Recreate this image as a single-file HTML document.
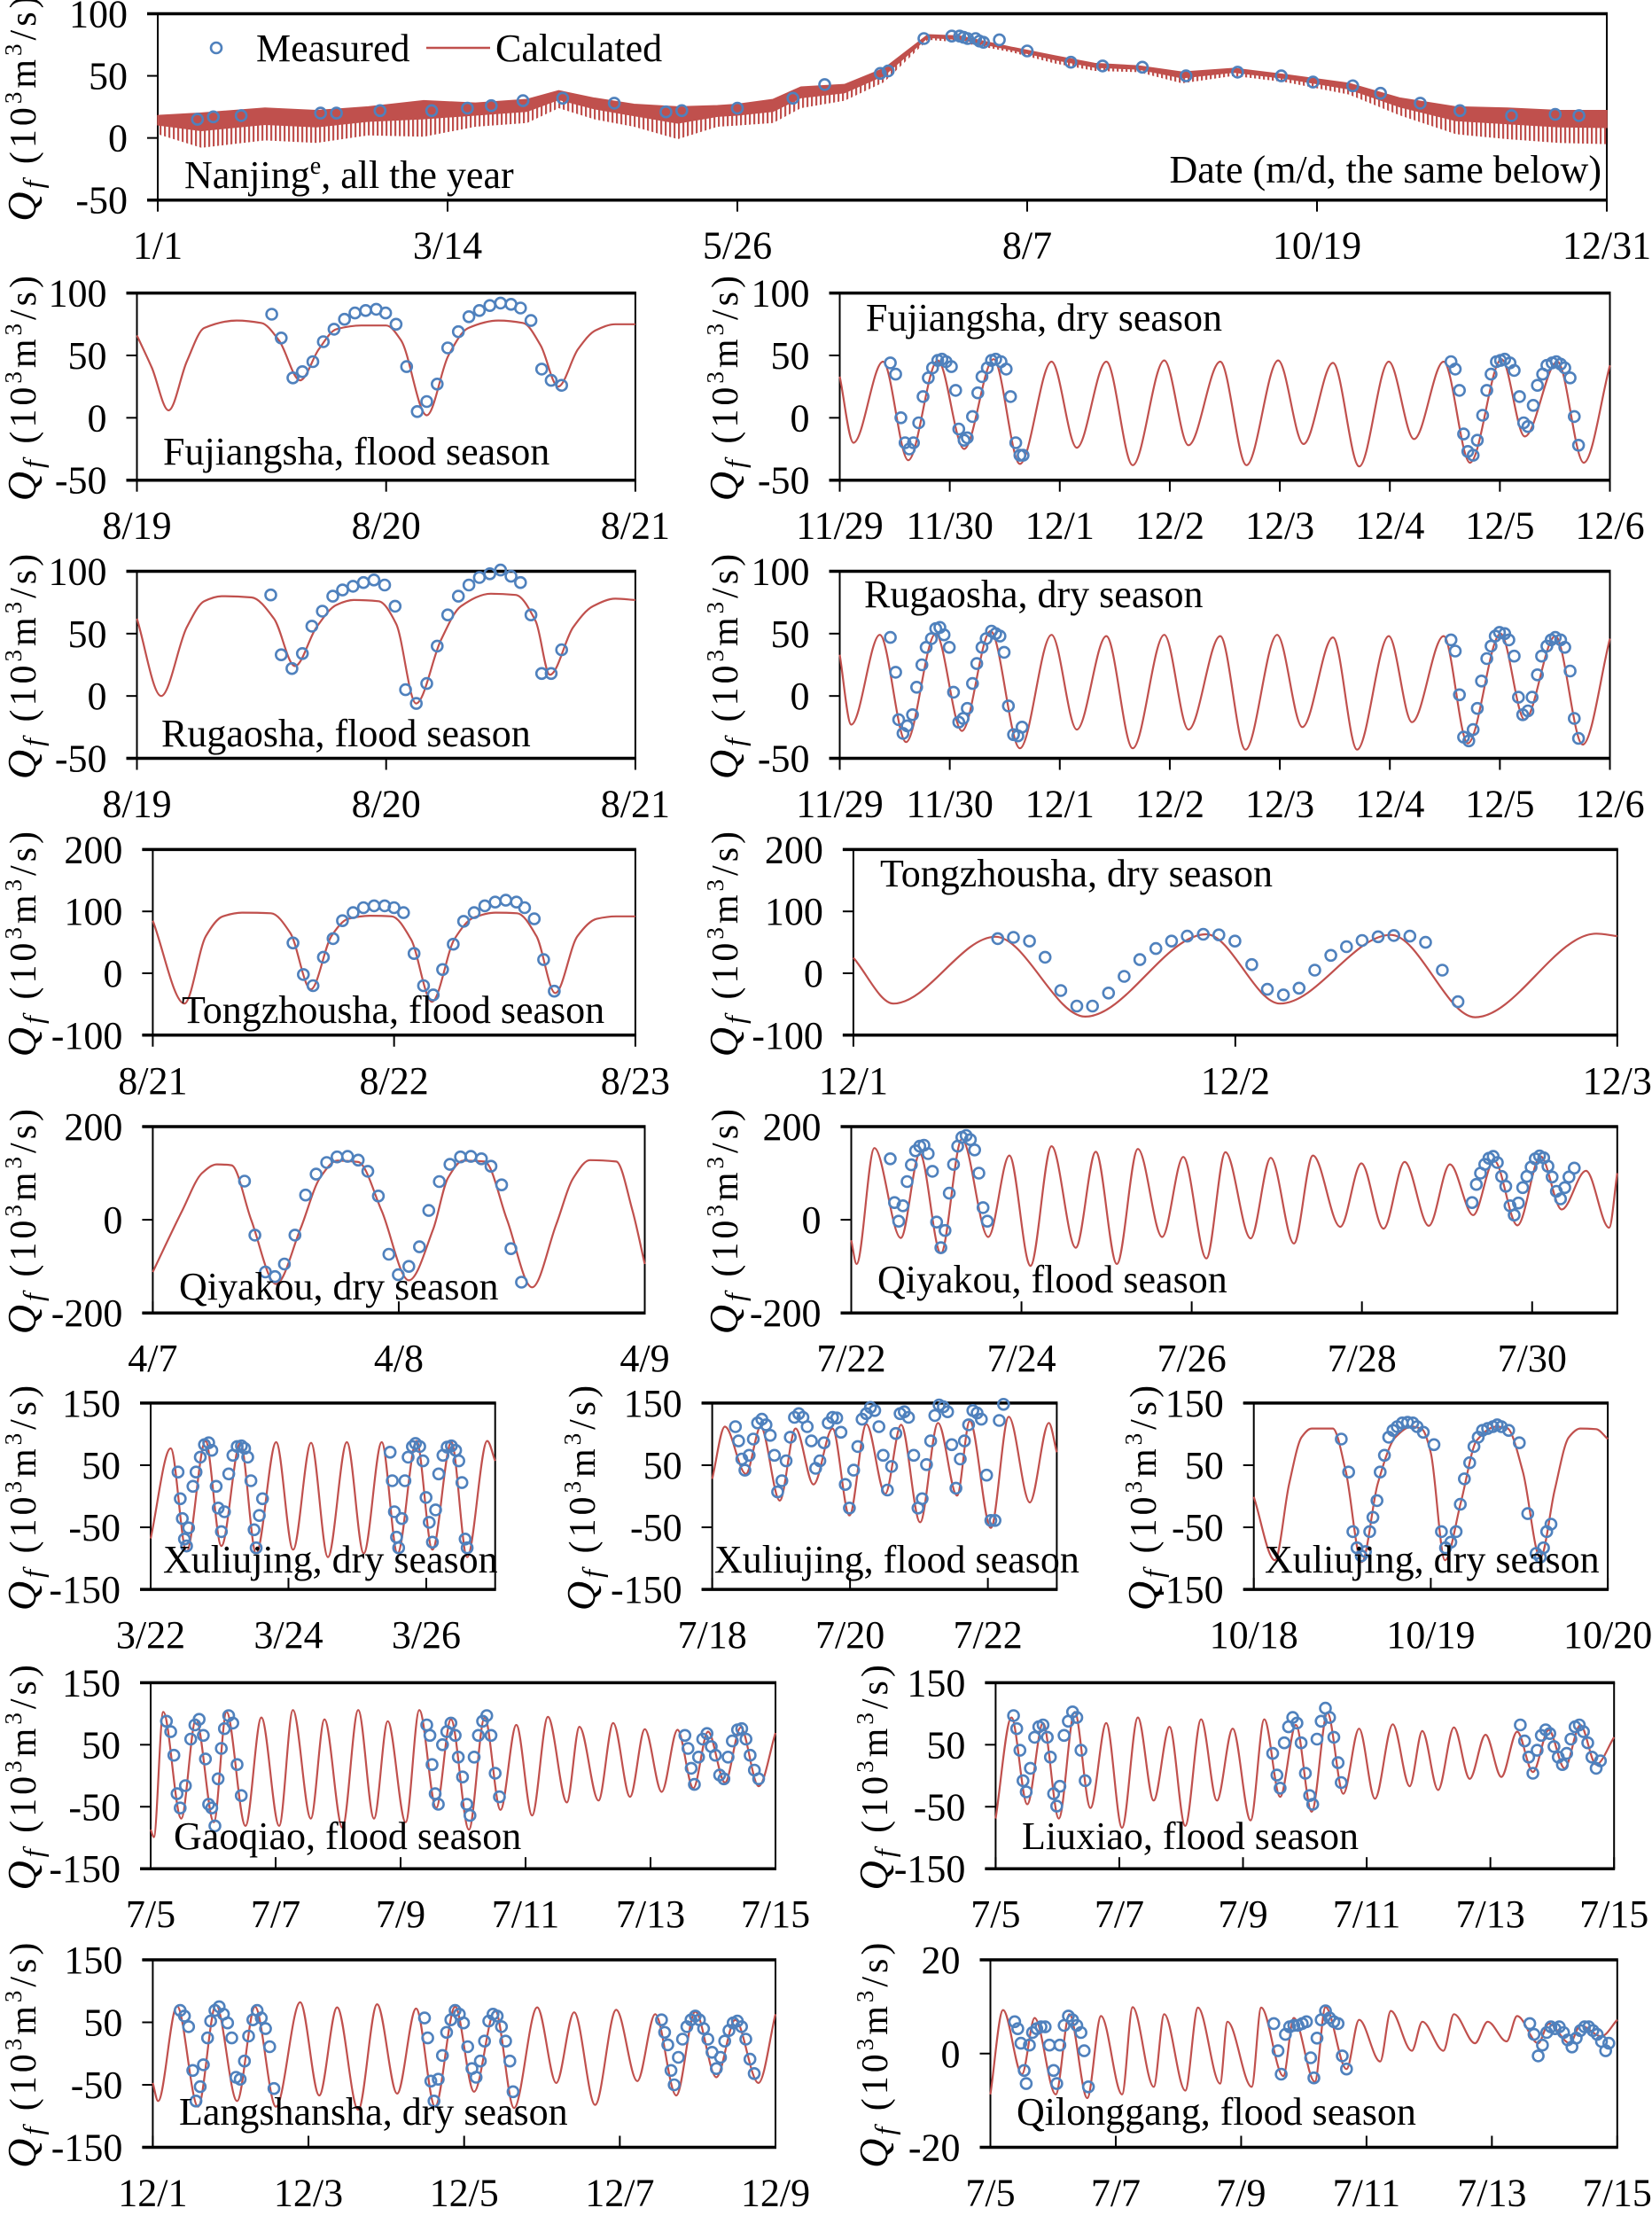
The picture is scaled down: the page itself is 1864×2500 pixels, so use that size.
<!DOCTYPE html>
<html><head><meta charset="utf-8"><title>Qf panels</title>
<style>
html,body{margin:0;padding:0;background:#fff;}
svg{display:block;}
text{font-family:"Liberation Serif","DejaVu Serif",serif;fill:#000;}
</style></head>
<body>
<svg id="fig" xmlns="http://www.w3.org/2000/svg" width="1864" height="2500" viewBox="0 0 1864 2500">
<defs>
<pattern id="spikes" patternUnits="userSpaceOnUse" width="5" height="10"><rect x="0" y="0" width="2.2" height="10" fill="#C0504D"/></pattern>
</defs>
</svg>
<script>
// ---------- Nanjing (all year), days from 1/1 ----------
const nanjingEnvDays = [0,11,27,40,53,67,80,93,101,110,120,131,141,146,155,162,173,183,194,202,215,226,236,247,258,271,284,300,313,327,340,353,365];
const nanjingUpper = [18,20,24,22,25,30,28,31,38,32,27,25,26,27,31,41,43,56,83,82,73,66,60,58,53,56,51,44,32,25,24,22,22];
const nanjingLower = [3,-8,-2,-4,2,1,9,12,24,15,9,-1,9,10,12,24,30,45,79,77,69,60,54,53,44,50,45,35,18,3,-1,-4,-5];
const nanjingMeas = [[10,15],[14,17],[21,18],[41,20],[45,20],[56,22],[69,22],[78,24],[84,26],[92,30],[102,32],[115,28],[128,21],[132,22],[146,24],[160,32],[168,43],[182,52],[184,54],[193,80],[200,82],[202,82],[203,81],[204,80],[206,80],[207,78],[208,77],[212,79],[219,70],[230,61],[238,58],[248,57],[259,50],[272,53],[283,50],[291,45],[301,42],[308,36],[318,28],[328,22],[341,18],[352,19],[358,18]];
const nanjingTickDays = [0,73,146,219,292,365];
const nanjingTickLabels = ["1/1","3/14","5/26","8/7","10/19","12/31"];

// ---------- Fujiangsha ----------
const fujFloodCalc = [[0,66],[0.06,40],[0.127,6],[0.2,45],[0.27,72],[0.4,78],[0.5,76],[0.57,62],[0.655,30],[0.73,55],[0.8,71],[0.9,74],[1.0,74],[1.06,62],[1.163,2],[1.25,50],[1.33,72],[1.45,78],[1.55,76],[1.62,58],[1.69,25],[1.77,55],[1.84,70],[1.92,75],[2,75]];
const fujFloodMeas = [[0.541,83],[0.579,64],[0.626,32],[0.664,37],[0.706,45],[0.748,61],[0.791,71],[0.833,79],[0.875,84],[0.918,86],[0.96,87],[0.998,84],[1.04,75],[1.082,41],[1.125,5],[1.163,13],[1.205,27],[1.247,56],[1.29,69],[1.332,81],[1.374,86],[1.416,90],[1.459,92],[1.501,91],[1.539,88],[1.581,78],[1.624,39],[1.662,30],[1.704,26]];
const fujFloodLabels = ["8/19","8/20","8/21"];
const fujDryCalc = [[0,33],[0.125,-20],[0.393,45],[0.623,-34],[0.891,46],[1.13,-25],[1.398,47],[1.638,-37],[1.925,45],[2.155,-24],[2.423,45],[2.663,-38],[2.95,46],[3.17,-22],[3.458,45],[3.697,-38],[3.985,46],[4.215,-21],[4.483,44],[4.722,-39],[4.99,45],[5.22,-17],[5.489,45],[5.728,-36],[6.015,47],[6.226,-15],[6.523,45],[6.762,-36],[7,42]];
const fujDryMeas = [[0.46,44],[0.508,35],[0.556,0],[0.594,-20],[0.632,-25],[0.67,-20],[0.718,-4],[0.757,17],[0.805,32],[0.843,40],[0.891,46],[0.929,47],[0.967,45],[1.015,41],[1.054,22],[1.082,-9],[1.13,-18],[1.159,-16],[1.207,1],[1.255,20],[1.293,33],[1.341,40],[1.379,46],[1.418,47],[1.466,45],[1.513,39],[1.552,17],[1.6,-20],[1.638,-30],[1.667,-30],
[5.556,45],[5.594,39],[5.632,22],[5.67,-13],[5.709,-27],[5.757,-30],[5.795,-18],[5.843,2],[5.881,22],[5.92,35],[5.968,45],[6.006,46],[6.044,47],[6.092,44],[6.13,38],[6.178,17],[6.216,-4],[6.255,-7],[6.303,10],[6.341,26],[6.389,35],[6.427,42],[6.475,44],[6.513,45],[6.552,43],[6.59,40],[6.638,32],[6.676,1],[6.715,-22]];
const weekLabels = ["11/29","11/30","12/1","12/2","12/3","12/4","12/5","12/6"];

// ---------- Rugaosha ----------
const rugFloodCalc = [[0,62],[0.097,0],[0.2,55],[0.27,76],[0.34,80],[0.46,79],[0.55,62],[0.634,24],[0.72,55],[0.8,73],[0.87,77],[0.97,76],[1.04,58],[1.12,-6],[1.22,45],[1.3,72],[1.42,82],[1.52,81],[1.6,60],[1.657,17],[1.75,55],[1.83,72],[1.92,78],[2,77]];
const rugFloodMeas = [[0.537,81],[0.579,33],[0.622,22],[0.664,34],[0.702,56],[0.744,68],[0.786,80],[0.825,85],[0.867,88],[0.909,91],[0.951,93],[0.994,89],[1.036,72],[1.078,5],[1.121,-6],[1.163,10],[1.205,40],[1.247,65],[1.29,80],[1.332,89],[1.374,95],[1.416,98],[1.459,101],[1.501,96],[1.539,91],[1.581,65],[1.624,18],[1.662,18],[1.704,37]];
const rugDryCalc = [[0,33],[0.105,-23],[0.364,49],[0.603,-37],[0.872,50],[1.111,-28],[1.37,52],[1.638,-42],[1.925,49],[2.155,-27],[2.423,48],[2.663,-42],[2.95,49],[3.17,-27],[3.458,48],[3.688,-43],[3.975,49],[4.205,-25],[4.483,47],[4.703,-43],[4.99,48],[5.201,-21],[5.489,48],[5.709,-38],[6.006,50],[6.226,-19],[6.504,48],[6.753,-39],[7,46]];
const rugDryMeas = [[0.46,47],[0.508,19],[0.536,-19],[0.575,-30],[0.613,-24],[0.661,-15],[0.699,7],[0.747,25],[0.785,39],[0.833,46],[0.872,54],[0.91,55],[0.948,49],[0.996,39],[1.034,3],[1.082,-21],[1.121,-18],[1.159,-10],[1.207,10],[1.245,26],[1.293,39],[1.331,46],[1.379,52],[1.418,50],[1.456,48],[1.494,35],[1.533,-8],[1.58,-31],[1.619,-32],[1.657,-25],
[5.556,45],[5.594,36],[5.632,1],[5.67,-33],[5.718,-36],[5.757,-27],[5.795,-10],[5.833,12],[5.881,30],[5.92,40],[5.958,48],[5.996,51],[6.044,50],[6.082,45],[6.13,32],[6.169,-1],[6.207,-15],[6.255,-12],[6.293,-1],[6.341,17],[6.379,32],[6.427,40],[6.466,45],[6.504,47],[6.552,45],[6.59,39],[6.638,20],[6.676,-18],[6.715,-34]];

// ---------- Tongzhousha ----------
const tzsFloodCalc = [[0,85],[0.131,-49],[0.22,60],[0.29,92],[0.37,98],[0.49,97],[0.57,65],[0.655,-26],[0.74,60],[0.81,88],[0.9,93],[0.99,92],[1.07,55],[1.157,-46],[1.25,55],[1.33,90],[1.42,98],[1.51,97],[1.59,60],[1.668,-32],[1.76,60],[1.84,88],[1.92,92],[2,92]];
const tzsFloodMeas = [[0.581,49],[0.624,-2],[0.664,-20],[0.707,26],[0.747,56],[0.786,85],[0.83,98],[0.873,106],[0.917,109],[0.961,109],[1.0,106],[1.039,98],[1.083,32],[1.122,-20],[1.162,-35],[1.201,6],[1.245,47],[1.288,84],[1.332,98],[1.376,109],[1.419,115],[1.463,118],[1.507,115],[1.541,106],[1.581,88],[1.62,22],[1.664,-29]];
const tzsFloodLabels = ["8/21","8/22","8/23"];
const tzsDryCalc = [[0,25],[0.105,-49],[0.372,59],[0.607,-70],[0.924,63],[1.117,-49],[1.407,62],[1.628,-71],[1.945,64],[2,60]];
const tzsDryMeas = [[0.378,56],[0.419,58],[0.461,52],[0.502,26],[0.543,-28],[0.585,-53],[0.626,-53],[0.668,-32],[0.709,-5],[0.75,22],[0.792,40],[0.833,52],[0.874,60],[0.916,63],[0.957,62],[0.999,52],[1.043,14],[1.084,-26],[1.126,-35],[1.167,-24],[1.208,5],[1.25,29],[1.291,43],[1.332,53],[1.374,59],[1.415,61],[1.457,60],[1.498,50],[1.542,5],[1.583,-46]];
const tzsDryLabels = ["12/1","12/2","12/3"];

// ---------- Qiyakou ----------
const qykDryCalc = [[0,-112],[0.12,20],[0.2,100],[0.26,119],[0.32,117],[0.4,0],[0.501,-138],[0.6,-20],[0.68,90],[0.75,127],[0.835,124],[0.93,20],[1.041,-130],[1.14,-20],[1.2,90],[1.263,127],[1.349,125],[1.44,0],[1.542,-145],[1.64,-10],[1.71,90],[1.777,128],[1.884,125],[1.95,20],[2,-95]];
const qykDryMeas = [[0.373,83],[0.415,-33],[0.458,-112],[0.497,-122],[0.535,-95],[0.578,-33],[0.621,53],[0.664,98],[0.707,123],[0.749,135],[0.792,136],[0.835,128],[0.874,104],[0.917,51],[0.96,-74],[0.998,-118],[1.041,-100],[1.084,-58],[1.122,20],[1.165,82],[1.208,119],[1.251,135],[1.293,136],[1.336,131],[1.375,115],[1.418,75],[1.456,-62],[1.499,-134]];
const qykDryLabels = ["4/7","4/8","4/9"];
const qykFloodCalc = [[0,-44],[0.062,-95],[0.272,154],[0.582,-39],[0.805,142],[1.053,-72],[1.3,173],[1.61,-37],[1.858,138],[2.105,-99],[2.353,158],[2.638,-60],[2.873,146],[3.121,-95],[3.368,152],[3.653,-37],[3.901,135],[4.173,-83],[4.396,145],[4.693,-40],[4.929,133],[5.201,-51],[5.424,138],[5.746,-15],[5.994,121],[6.254,-19],[6.502,124],[6.786,-13],[7.034,119],[7.307,10],[7.554,127],[7.827,-12],[8.099,136],[8.347,22],[8.632,105],[8.904,-17],[9,100]];
const qykFloodMeas = [[0.458,131],[0.508,37],[0.557,-3],[0.607,30],[0.656,82],[0.706,118],[0.755,148],[0.805,158],[0.854,160],[0.904,142],[0.954,104],[1.003,-5],[1.053,-60],[1.102,-23],[1.152,57],[1.202,119],[1.251,158],[1.3,177],[1.35,181],[1.4,172],[1.449,150],[1.499,100],[1.548,26],[1.598,-3],
[7.294,37],[7.344,76],[7.393,100],[7.443,119],[7.492,132],[7.542,136],[7.591,123],[7.641,93],[7.69,72],[7.74,30],[7.789,10],[7.839,36],[7.889,69],[7.938,93],[7.988,113],[8.037,131],[8.087,137],[8.136,133],[8.186,115],[8.235,92],[8.285,61],[8.334,45],[8.384,69],[8.433,92],[8.495,111]];
const qykFloodLabels = ["7/22","7/24","7/26","7/28","7/30"];

// ---------- Xuliujing ----------
const xljDry1Calc = [[0,-68],[0.291,77],[0.521,-89],[0.796,89],[1.026,-80],[1.302,86],[1.531,-92],[1.822,87],[2.067,-86],[2.328,86],[2.573,-98],[2.848,87],[3.093,-92],[3.354,87],[3.583,-92],[3.859,89],[4.089,-86],[4.364,87],[4.594,-98],[4.885,89],[5,57]];
const xljDry1Meas = [[0.398,39],[0.429,-4],[0.459,-36],[0.49,-69],[0.521,-80],[0.551,-51],[0.613,16],[0.659,39],[0.72,63],[0.781,83],[0.842,86],[0.888,74],[0.95,16],[0.98,-19],[1.026,-57],[1.072,-25],[1.133,36],[1.194,66],[1.256,80],[1.317,81],[1.363,77],[1.409,63],[1.455,25],[1.501,-54],[1.531,-83],[1.577,-31],[1.623,-4],
[3.476,71],[3.507,25],[3.538,-25],[3.568,-66],[3.599,-83],[3.645,-36],[3.691,25],[3.737,63],[3.798,80],[3.844,85],[3.905,80],[3.951,57],[3.997,-2],[4.043,-42],[4.089,-74],[4.135,-22],[4.181,36],[4.242,66],[4.303,79],[4.364,81],[4.426,74],[4.472,57],[4.518,22],[4.564,-69],[4.594,-83]];
const xljDry1Labels = ["3/22","3/24","3/26"];
const xljFloodCalc = [[0,28],[0.184,112],[0.49,36],[0.704,112],[0.98,-7],[1.21,109],[1.47,19],[1.746,109],[1.991,-31],[2.236,116],[2.511,4],[2.741,115],[3.017,-42],[3.277,118],[3.553,1],[3.737,121],[4.043,-51],[4.303,128],[4.609,-10],[4.885,118],[5,71]];
const xljFloodMeas = [[0.337,112],[0.383,89],[0.429,60],[0.475,42],[0.536,66],[0.597,92],[0.658,118],[0.72,124],[0.781,115],[0.842,98],[0.903,66],[0.949,7],[1.011,25],[1.072,57],[1.133,95],[1.194,127],[1.256,133],[1.317,127],[1.378,112],[1.439,89],[1.501,45],[1.562,57],[1.623,86],[1.684,118],[1.746,127],[1.807,126],[1.868,103],[1.93,19],[1.991,-19],[2.052,42],[2.113,80],[2.174,124],[2.236,133],[2.297,143],[2.358,138],[2.419,112],[2.481,66],[2.542,10],[2.603,48],[2.664,101],[2.726,133],[2.787,136],[2.848,127],[2.925,66],[2.986,-19],[3.047,-4],[3.109,51],[3.17,89],[3.231,130],[3.292,147],[3.354,144],[3.415,136],[3.476,83],[3.537,13],[3.599,60],[3.66,89],[3.721,115],[3.782,138],[3.844,134],[3.905,124],[3.982,34],[4.043,-39],[4.104,-39],[4.165,122],[4.227,148]];
const xljFloodLabels = ["7/18","7/20","7/22"];
const xljDry2Calc = [[0,-1],[0.119,-103],[0.2,20],[0.27,95],[0.327,109],[0.446,109],[0.52,40],[0.61,-106],[0.7,20],[0.8,95],[0.893,112],[0.95,108],[1.0,70],[1.08,-103],[1.17,-10],[1.26,90],[1.369,112],[1.43,110],[1.52,40],[1.619,-99],[1.7,10],[1.78,95],[1.845,109],[1.935,108],[2,92]];
const xljDry2Meas = [[0.494,92],[0.536,39],[0.56,-57],[0.583,-83],[0.607,-96],[0.631,-89],[0.655,-57],[0.673,-34],[0.696,-7],[0.714,39],[0.738,66],[0.762,95],[0.786,106],[0.81,112],[0.839,118],[0.869,119],[0.899,118],[0.923,112],[0.958,103],[1.018,83],[1.06,-57],[1.083,-83],[1.113,-74],[1.143,-57],[1.167,-13],[1.19,28],[1.22,54],[1.244,80],[1.268,95],[1.292,106],[1.321,109],[1.351,112],[1.375,115],[1.399,112],[1.44,106],[1.5,86],[1.548,-28],[1.595,-92],[1.619,-98],[1.637,-83],[1.655,-57],[1.679,-45]];
const xljDry2Labels = ["10/18","10/19","10/20"];

// ---------- Gaoqiao / Liuxiao ----------
const gqCalc = [[0,-87],[0.051,-99],[0.202,103],[0.489,-69],[0.725,91],[1.012,-75],[1.214,103],[1.518,-81],[1.771,94],[2.057,-81],[2.277,106],[2.563,-69],[2.782,91],[3.069,-84],[3.322,106],[3.575,-69],[3.794,88],[4.081,-75],[4.3,106],[4.57,-52],[4.806,91],[5.093,-87],[5.346,94],[5.599,-55],[5.852,82],[6.105,-64],[6.358,95],[6.661,-43],[6.863,79],[7.167,-40],[7.403,85],[7.673,-34],[7.909,75],[8.179,-26],[8.432,74],[8.685,-20],[8.921,71],[9.191,-11],[9.444,78],[9.73,-17],[10,69]];
const gqMeas = [[0.253,88],[0.32,71],[0.371,33],[0.422,-29],[0.472,-52],[0.556,-16],[0.641,59],[0.708,82],[0.776,91],[0.843,65],[0.877,27],[0.927,-46],[0.978,-52],[1.029,-81],[1.079,-5],[1.13,44],[1.18,76],[1.248,97],[1.315,85],[1.383,18],[1.45,-32],
[4.418,82],[4.469,65],[4.503,18],[4.553,-29],[4.604,-46],[4.671,50],[4.739,71],[4.806,85],[4.874,65],[4.924,30],[4.992,-2],[5.059,-46],[5.11,-64],[5.177,30],[5.245,65],[5.312,88],[5.379,97],[5.447,65],[5.514,4],[5.582,-34],
[8.55,65],[8.6,44],[8.651,12],[8.702,-14],[8.769,30],[8.836,59],[8.904,68],[8.971,47],[9.039,33],[9.106,1],[9.174,-5],[9.241,30],[9.309,56],[9.393,74],[9.46,76],[9.528,59],[9.595,33],[9.663,9],[9.73,-5]];
const julyLabels = ["7/5","7/7","7/9","7/11","7/13","7/15"];
const lxCalc = [[0,-69],[0.256,94],[0.511,-46],[0.767,85],[1.022,-69],[1.278,103],[1.533,-52],[1.789,85],[2.044,-84],[2.3,94],[2.555,-40],[2.811,79],[3.066,-81],[3.322,91],[3.578,-40],[3.833,76],[4.123,-72],[4.344,91],[4.6,-34],[4.855,82],[5.111,-58],[5.366,101],[5.622,-29],[5.877,76],[6.133,-37],[6.422,83],[6.695,-17],[6.899,72],[7.155,-23],[7.411,78],[7.666,-5],[7.922,66],[8.177,-2],[8.433,71],[8.688,6],[8.944,74],[9.199,12],[9.455,82],[9.71,18],[10,62]];
const lxMeas = [[0.29,97],[0.341,76],[0.392,41],[0.443,-8],[0.494,-26],[0.562,12],[0.63,62],[0.698,79],[0.767,82],[0.835,62],[0.886,30],[0.937,-29],[0.988,-49],[1.039,-17],[1.107,65],[1.175,88],[1.244,103],[1.312,94],[1.38,41],[1.448,-8],
[4.48,36],[4.549,1],[4.6,-20],[4.668,53],[4.736,79],[4.804,94],[4.872,85],[4.94,53],[5.009,4],[5.077,-32],[5.128,-46],[5.196,59],[5.264,88],[5.332,109],[5.4,94],[5.468,62],[5.537,21],[5.588,-11],
[8.484,82],[8.552,56],[8.62,30],[8.688,4],[8.756,41],[8.824,65],[8.893,74],[8.961,68],[9.029,47],[9.097,30],[9.165,18],[9.233,36],[9.302,59],[9.37,79],[9.438,82],[9.506,71],[9.574,53],[9.642,30],[9.71,12],[9.779,24]];

// ---------- Langshansha / Qilonggang ----------
const lssCalc = [[0,-47],[0.068,-76],[0.311,76],[0.582,-85],[0.812,78],[1.083,-76],[1.313,75],[1.583,-85],[1.894,82],[2.138,-67],[2.368,74],[2.639,-90],[2.882,79],[3.139,-64],[3.383,72],[3.627,-85],[3.884,75],[4.127,-61],[4.398,69],[4.641,-87],[4.939,74],[5.183,-47],[5.413,66],[5.683,-82],[5.954,70],[6.225,-44],[6.455,63],[6.725,-67],[6.969,67],[7.24,-38],[7.483,54],[7.781,-47],[8,63]];
const lssMeas = [[0.352,69],[0.406,60],[0.46,43],[0.514,-27],[0.555,-76],[0.609,-53],[0.65,-18],[0.704,25],[0.744,52],[0.798,69],[0.853,75],[0.907,63],[0.961,49],[1.015,25],[1.069,-38],[1.123,-41],[1.177,-12],[1.231,28],[1.286,54],[1.34,69],[1.394,57],[1.448,40],[1.502,11],[1.556,-56],
[3.491,57],[3.532,25],[3.572,-44],[3.613,-76],[3.667,-41],[3.721,-3],[3.775,34],[3.829,54],[3.884,69],[3.938,63],[3.992,49],[4.046,11],[4.1,-24],[4.154,-38],[4.208,-12],[4.262,20],[4.317,52],[4.371,63],[4.425,60],[4.479,43],[4.533,20],[4.587,-12],[4.628,-61],
[6.536,54],[6.576,34],[6.617,14],[6.658,-27],[6.698,-50],[6.752,-6],[6.806,23],[6.861,43],[6.915,54],[6.969,60],[7.023,54],[7.077,40],[7.131,23],[7.185,2],[7.24,-24],[7.294,-6],[7.348,20],[7.402,37],[7.456,49],[7.51,52],[7.564,43],[7.618,23],[7.672,-9],[7.727,-32]];
const lssLabels = ["12/1","12/3","12/5","12/7","12/9"];
const qlgCalc = [[0,-8.7],[0.202,9.3],[0.504,-4.4],[0.706,7.6],[1.042,-8.7],[1.261,8.4],[1.546,-9.5],[1.765,8],[2.101,-8.7],[2.269,9.9],[2.605,-7.1],[2.773,8.4],[3.109,-7.9],[3.311,9.8],[3.664,-6.4],[3.782,6.8],[4.168,-7.1],[4.319,9.8],[4.672,-4.8],[4.84,7.6],[5.176,-6],[5.345,9.9],[5.681,-3.3],[5.882,7.2],[6.218,-1.7],[6.387,9.1],[6.723,0.6],[6.891,6.8],[7.227,0.6],[7.395,8.4],[7.731,2.2],[7.933,6.8],[8.235,2.6],[8.403,8],[8.739,2.2],[8.908,6.4],[9.244,2.2],[9.412,6],[9.748,3.7],[10,7.2]];
const qlgMeas = [[0.387,6.8],[0.437,5.3],[0.487,2.2],[0.538,-3.6],[0.571,-6.4],[0.622,1.8],[0.672,4.5],[0.739,5.3],[0.807,5.7],[0.874,5.7],[0.941,1.8],[1.008,-3.6],[1.059,-6.4],[1.109,1.8],[1.176,6],[1.244,8],[1.311,7.2],[1.378,6],[1.445,4.5],[1.496,0.6],[1.563,-7.1],
[4.521,6.4],[4.588,0.6],[4.639,-4.4],[4.706,4.1],[4.773,5.7],[4.84,6],[4.908,6],[4.975,6.4],[5.042,6.8],[5.109,-0.9],[5.16,-5.2],[5.21,3.3],[5.277,7.2],[5.345,9.1],[5.412,7.6],[5.479,6.8],[5.546,6.4],[5.613,-0.5],[5.681,-3.3],
[8.605,6.4],[8.672,4.1],[8.739,-0.5],[8.807,1.8],[8.874,4.5],[8.941,5.7],[9.008,5.3],[9.076,5.7],[9.143,4.5],[9.21,2.9],[9.277,1.4],[9.345,3.3],[9.412,4.9],[9.479,5.7],[9.546,5.7],[9.613,4.9],[9.681,4.1],[9.748,2.6],[9.815,0.6],[9.866,2.2]];

// ---------- layout ----------
const NS = "http://www.w3.org/2000/svg";
const svg = document.getElementById('fig');
const RED = "#C0504D", BLUE = "#4F81BD";
function mk(tag, attrs, parent){ const e=document.createElementNS(NS,tag); for(const k in attrs) e.setAttribute(k,attrs[k]); (parent||svg).appendChild(e); return e; }

function monoPath(pts, sx, sy){
  const n=pts.length; const X=pts.map(p=>sx(p[0])), Y=pts.map(p=>sy(p[1]));
  const d=[],m=new Array(n);
  for(let i=0;i<n-1;i++) d.push((Y[i+1]-Y[i])/(X[i+1]-X[i]));
  m[0]=d[0]; m[n-1]=d[n-2];
  for(let i=1;i<n-1;i++){ if(d[i-1]*d[i]<=0) m[i]=0; else { m[i]=2/(1/d[i-1]+1/d[i]); } }
  let s="M"+X[0].toFixed(1)+","+Y[0].toFixed(1);
  for(let i=0;i<n-1;i++){ const h=(X[i+1]-X[i])/3;
    s+="C"+(X[i]+h).toFixed(1)+","+(Y[i]+m[i]*h).toFixed(1)+" "+(X[i+1]-h).toFixed(1)+","+(Y[i+1]-m[i+1]*h).toFixed(1)+" "+X[i+1].toFixed(1)+","+Y[i+1].toFixed(1); }
  return s;
}

function yTitle(g, cx, cy){
  const t=mk('text',{transform:`translate(${cx+14},${cy}) rotate(-90)`,'text-anchor':'middle','font-size':'42','letter-spacing':'4'},g);
  
  
  t.innerHTML='<tspan font-style="italic" font-size="46">Q</tspan><tspan font-style="italic" font-size="32" dy="8">f</tspan><tspan dy="-8"> (10</tspan><tspan font-size="27" dy="-16">3</tspan><tspan dy="16">m</tspan><tspan font-size="27" dy="-16">3</tspan><tspan dy="16">/s)</tspan>';
}

function panel(p){
  const g=mk('g',{});
  
  
  const sx=t=>p.x0+(t-p.d0)/(p.d1-p.d0)*(p.x1-p.x0);
  const sy=v=>p.y1-(v-p.ymin)/(p.ymax-p.ymin)*(p.y1-p.y0);
  const fr=mk('g',{stroke:'#000',fill:'none'},g);
  
  
  mk('line',{x1:p.x0-12,y1:p.y0,x2:p.x1+1,y2:p.y0,'stroke-width':3.5},fr);
  mk('line',{x1:p.x0-12,y1:p.y1,x2:p.x1+1,y2:p.y1,'stroke-width':3.5},fr);
  mk('line',{x1:p.x0,y1:p.y0,x2:p.x0,y2:p.y1,'stroke-width':2},fr);
  mk('line',{x1:p.x1,y1:p.y0,x2:p.x1,y2:p.y1,'stroke-width':2},fr);
  p.yTicks.forEach(v=>{
    const y=sy(v);
    mk('line',{x1:p.x0-12,y1:y,x2:p.x0,y2:y,stroke:'#000','stroke-width':2},g);
    const t=mk('text',{x:p.x0-34,y:y+15,'text-anchor':'end','font-size':'44'},g);
    
    
    t.textContent=String(v);
  });
  p.xTicks.forEach((tv,i)=>{
    const x=sx(tv);
    const yy2 = p.tickOut ? p.y1+13 : p.y1-13;
    mk('line',{x1:x,y1:p.y1,x2:x,y2:yy2,stroke:'#000','stroke-width':2},g);
    const t=mk('text',{x:x,y:p.y1+66,'text-anchor':'middle','font-size':'44'},g);
    
    
    t.textContent=p.xLabels[i];
  });
  yTitle(g,p.titleX,(p.y0+p.y1)/2);
  if(p.band){
    const D=p.band.days, U=p.band.up, L=p.band.lo;
    let s="";
    D.forEach((d,i)=>{ s+=(i?"L":"M")+sx(d).toFixed(1)+","+sy(U[i]).toFixed(1); });
    let full=s, solid=s;
    for(let i=D.length-1;i>=0;i--){
      full+="L"+sx(D[i]).toFixed(1)+","+sy(L[i]).toFixed(1);
      solid+="L"+sx(D[i]).toFixed(1)+","+sy(U[i]-0.5*(U[i]-L[i])).toFixed(1);
    }
    const b1=mk('path',{d:full+"Z",fill:'url(#spikes)',stroke:'none'},g);
    
    
    const b=mk('path',{d:solid+"Z",fill:RED,stroke:RED,'stroke-width':1.5},g);
    
    
  }
  if(p.calc){
    const c=mk('path',{d:monoPath(p.calc,sx,sy),fill:'none',stroke:RED,'stroke-width':2.2},g);
    
    
  }
  p.meas.forEach(pt=>{
    const c=mk('circle',{cx:sx(pt[0]).toFixed(1),cy:sy(pt[1]).toFixed(1),r:6,fill:'none',stroke:BLUE,'stroke-width':2.6},g);
    
    
  });
  const lb=mk('text',{x:p.lx,y:p.ly,'font-size':'44'},g);
  
  
  lb.innerHTML=p.label;
  return g;
}

const y100=[100,50,0,-50], y200=[200,100,0,-100], y200b=[200,0,-200], y150=[150,50,-50,-150], y20=[20,0,-20];
const r1=[330.6,541.7], r2=[644.5,855.5], r3=[958.4,1167.8], r4=[1271,1481.2], r5=[1582.9,1793.1], r6=[1898.4,2108.2], r7=[2211,2422.5];

panel({name:'nanjing-panel',x0:178,x1:1813,y0:15.5,y1:225.7,d0:0,d1:365,ymin:-50,ymax:100,yTicks:y100,xTicks:nanjingTickDays,xLabels:nanjingTickLabels,tickOut:true,titleX:26,band:{days:nanjingEnvDays,up:nanjingUpper,lo:nanjingLower},meas:nanjingMeas,label:'Nanjing<tspan font-size="28" dy="-16">e</tspan><tspan dy="16">, all the year</tspan>',lx:208,ly:212});

panel({name:'fujiangsha-flood-panel',x0:154.5,x1:716.9,y0:r1[0],y1:r1[1],d0:0,d1:2,ymin:-50,ymax:100,yTicks:y100,xTicks:[0,1,2],xLabels:fujFloodLabels,tickOut:true,titleX:26,calc:fujFloodCalc,meas:fujFloodMeas,label:'Fujiangsha, flood season',lx:184,ly:524});
panel({name:'fujiangsha-dry-panel',x0:947.5,x1:1816.5,y0:r1[0],y1:r1[1],d0:0,d1:7,ymin:-50,ymax:100,yTicks:y100,xTicks:[0,1,2,3,4,5,6,7],xLabels:weekLabels,tickOut:true,titleX:818,calc:fujDryCalc,meas:fujDryMeas,label:'Fujiangsha, dry season',lx:977,ly:373});

panel({name:'rugaosha-flood-panel',x0:154.5,x1:716.9,y0:r2[0],y1:r2[1],d0:0,d1:2,ymin:-50,ymax:100,yTicks:y100,xTicks:[0,1,2],xLabels:fujFloodLabels,tickOut:true,titleX:26,calc:rugFloodCalc,meas:rugFloodMeas,label:'Rugaosha, flood season',lx:182,ly:842});
panel({name:'rugaosha-dry-panel',x0:947.5,x1:1816.5,y0:r2[0],y1:r2[1],d0:0,d1:7,ymin:-50,ymax:100,yTicks:y100,xTicks:[0,1,2,3,4,5,6,7],xLabels:weekLabels,tickOut:true,titleX:818,calc:rugDryCalc,meas:rugDryMeas,label:'Rugaosha, dry season',lx:975,ly:685});

panel({name:'tongzhousha-flood-panel',x0:172.4,x1:716.9,y0:r3[0],y1:r3[1],d0:0,d1:2,ymin:-100,ymax:200,yTicks:y200,xTicks:[0,1,2],xLabels:tzsFloodLabels,tickOut:true,titleX:26,calc:tzsFloodCalc,meas:tzsFloodMeas,label:'Tongzhousha, flood season',lx:205,ly:1154});
panel({name:'tongzhousha-dry-panel',x0:962.9,x1:1824.8,y0:r3[0],y1:r3[1],d0:0,d1:2,ymin:-100,ymax:200,yTicks:y200,xTicks:[0,1,2],xLabels:tzsDryLabels,tickOut:true,titleX:818,calc:tzsDryCalc,meas:tzsDryMeas,label:'Tongzhousha, dry season',lx:993,ly:1000});

panel({name:'qiyakou-dry-panel',x0:172.4,x1:727.5,y0:r4[0],y1:r4[1],d0:0,d1:2,ymin:-200,ymax:200,yTicks:y200b,xTicks:[0,1,2],xLabels:qykDryLabels,tickOut:false,titleX:26,calc:qykDryCalc,meas:qykDryMeas,label:'Qiyakou, dry season',lx:202,ly:1466});
panel({name:'qiyakou-flood-panel',x0:960.5,x1:1824.8,y0:r4[0],y1:r4[1],d0:0,d1:9,ymin:-200,ymax:200,yTicks:y200b,xTicks:[0,2,4,6,8],xLabels:qykFloodLabels,tickOut:false,titleX:818,calc:qykFloodCalc,meas:qykFloodMeas,label:'Qiyakou, flood season',lx:990,ly:1458});

panel({name:'xuliujing-dry-march-panel',x0:170,x1:558.7,y0:r5[0],y1:r5[1],d0:0,d1:5,ymin:-150,ymax:150,yTicks:y150,xTicks:[0,2,4],xLabels:xljDry1Labels,tickOut:false,titleX:26,calc:xljDry1Calc,meas:xljDry1Meas,label:'Xuliujing, dry season',lx:184,ly:1774});
panel({name:'xuliujing-flood-panel',x0:803.6,x1:1192.4,y0:r5[0],y1:r5[1],d0:0,d1:5,ymin:-150,ymax:150,yTicks:y150,xTicks:[0,2,4],xLabels:xljFloodLabels,tickOut:false,titleX:657,calc:xljFloodCalc,meas:xljFloodMeas,label:'Xuliujing, flood season',lx:806,ly:1774});
panel({name:'xuliujing-dry-october-panel',x0:1414.7,x1:1814.1,y0:r5[0],y1:r5[1],d0:0,d1:2,ymin:-150,ymax:150,yTicks:y150,xTicks:[0,1,2],xLabels:xljDry2Labels,tickOut:false,titleX:1290,calc:xljDry2Calc,meas:xljDry2Meas,label:'Xuliujing, dry season',lx:1427,ly:1774});

panel({name:'gaoqiao-flood-panel',x0:170,x1:875,y0:r6[0],y1:r6[1],d0:0,d1:10,ymin:-150,ymax:150,yTicks:y150,xTicks:[0,2,4,6,8,10],xLabels:julyLabels,tickOut:false,titleX:26,calc:gqCalc,meas:gqMeas,label:'Gaoqiao, flood season',lx:196,ly:2086});
panel({name:'liuxiao-flood-panel',x0:1123.4,x1:1821.2,y0:r6[0],y1:r6[1],d0:0,d1:10,ymin:-150,ymax:150,yTicks:y150,xTicks:[0,2,4,6,8,10],xLabels:julyLabels,tickOut:false,titleX:987,calc:lxCalc,meas:lxMeas,label:'Liuxiao, flood season',lx:1153,ly:2086});

panel({name:'langshansha-dry-panel',x0:172.4,x1:875,y0:r7[0],y1:r7[1],d0:0,d1:8,ymin:-150,ymax:150,yTicks:y150,xTicks:[0,2,4,6,8],xLabels:lssLabels,tickOut:false,titleX:26,calc:lssCalc,meas:lssMeas,label:'Langshansha, dry season',lx:202,ly:2397});
panel({name:'qilonggang-flood-panel',x0:1117.5,x1:1824.8,y0:r7[0],y1:r7[1],d0:0,d1:10,ymin:-20,ymax:20,yTicks:y20,xTicks:[0,2,4,6,8,10],xLabels:julyLabels,tickOut:false,titleX:987,calc:qlgCalc,meas:qlgMeas,label:'Qilonggang, flood season',lx:1147,ly:2397});

const lg=mk('g',{});


const lm=mk('circle',{cx:244,cy:54,r:6,fill:'none',stroke:BLUE,'stroke-width':2.6},lg);


const lt1=mk('text',{x:289,y:69,'font-size':'44'},lg);


lt1.textContent='Measured';
const ll=mk('line',{x1:481,y1:54,x2:553,y2:54,stroke:RED,'stroke-width':2.5},lg);


const lt2=mk('text',{x:559,y:69,'font-size':'44'},lg);


lt2.textContent='Calculated';
const dn=mk('text',{x:1807,y:206,'font-size':'44','text-anchor':'end'});


dn.textContent='Date (m/d, the same below)';
</script>
</body></html>
